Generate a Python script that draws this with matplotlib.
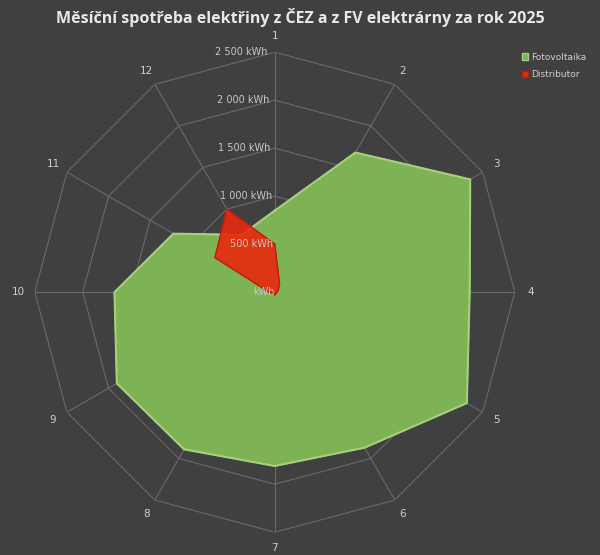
import numpy as np
import matplotlib
matplotlib.use("Agg")
import matplotlib.pyplot as plt
from matplotlib.patches import Patch

months = ["1", "2", "3", "4", "5", "6", "7", "8", "9", "10", "11", "12"]
fotovoltaika = [850, 1680, 2350, 2030, 2310, 1870, 1810, 1890, 1900, 1670, 1220, 690]
distributor = [500, 100, 40, 20, 20, 20, 30, 20, 20, 60, 720, 1000]
ticks = [0, 500, 1000, 1500, 2000, 2500]
tick_labels = ["kWh", "500 kWh", "1 000 kWh", "1 500 kWh", "2 000 kWh", "2 500 kWh"]

bg = "#404040"
fig = plt.figure(figsize=(6.0, 5.55), dpi=100, facecolor=bg)
ax = fig.add_axes([0.058, 0.041, 0.8, 0.865], projection="polar", facecolor=bg)
ax.set_theta_offset(np.pi / 2)
ax.set_theta_direction(-1)
n = len(months)
th = np.linspace(0, 2 * np.pi, n, endpoint=False)
thc = np.append(th, th[0])

# polygon grid
for r in ticks[1:]:
    ax.plot(thc, [r] * (n + 1), color="#6a6a6a", lw=0.8, zorder=1)
for t in th:
    ax.plot([t, t], [0, ticks[-1]], color="#6a6a6a", lw=0.8, zorder=1)

fv = np.append(fotovoltaika, fotovoltaika[0])
ds = np.append(distributor, distributor[0])
ax.fill(thc + 0.012, fv * 0.985, color="#2e2e2e", alpha=0.8, zorder=2)
ax.fill(thc, fv, color="#7db354", zorder=3)
ax.plot(thc, fv, color="#a6cf7e", lw=1.5, zorder=3)
ax.fill(thc, ds, color="#e8290f", alpha=0.9, zorder=4)
ax.plot(thc, ds, color="#b81c0c", lw=0.8, zorder=4)

for r, lab in zip(ticks, tick_labels):
    ax.text(-0.03, r, lab, ha="right", va="center", color="#c8c8c8", fontsize=7, zorder=5)

ax.set_xticks(th)
ax.set_xticklabels(months, color="#d0d0d0", fontsize=7.5)
ax.tick_params(axis="x", pad=1)
ax.set_yticks([])
ax.set_ylim(0, 2500)
ax.grid(False)
ax.spines["polar"].set_visible(False)

fig.suptitle("Měsíční spotřeba elektřiny z ČEZ a z FV elektrárny za rok 2025",
             color="#e8e8e8", fontsize=11.5, fontweight="bold", y=0.985, x=0.5,
             family="Open Sans")
handles = [Patch(facecolor="#7db354", edgecolor="#a6cf7e", label="Fotovoltaika"),
           Patch(facecolor="#e8290f", edgecolor="#b81c0c", label="Distributor")]
leg = fig.legend(handles=handles, loc="upper left", bbox_to_anchor=(0.87, 0.905),
                 frameon=False, fontsize=6.5, labelcolor="#d0d0d0",
                 handlelength=0.7, handleheight=0.7, handletextpad=0.3, labelspacing=0.9,
                 borderaxespad=0, borderpad=0)
fig.savefig("out.png", dpi=100, facecolor=bg)
